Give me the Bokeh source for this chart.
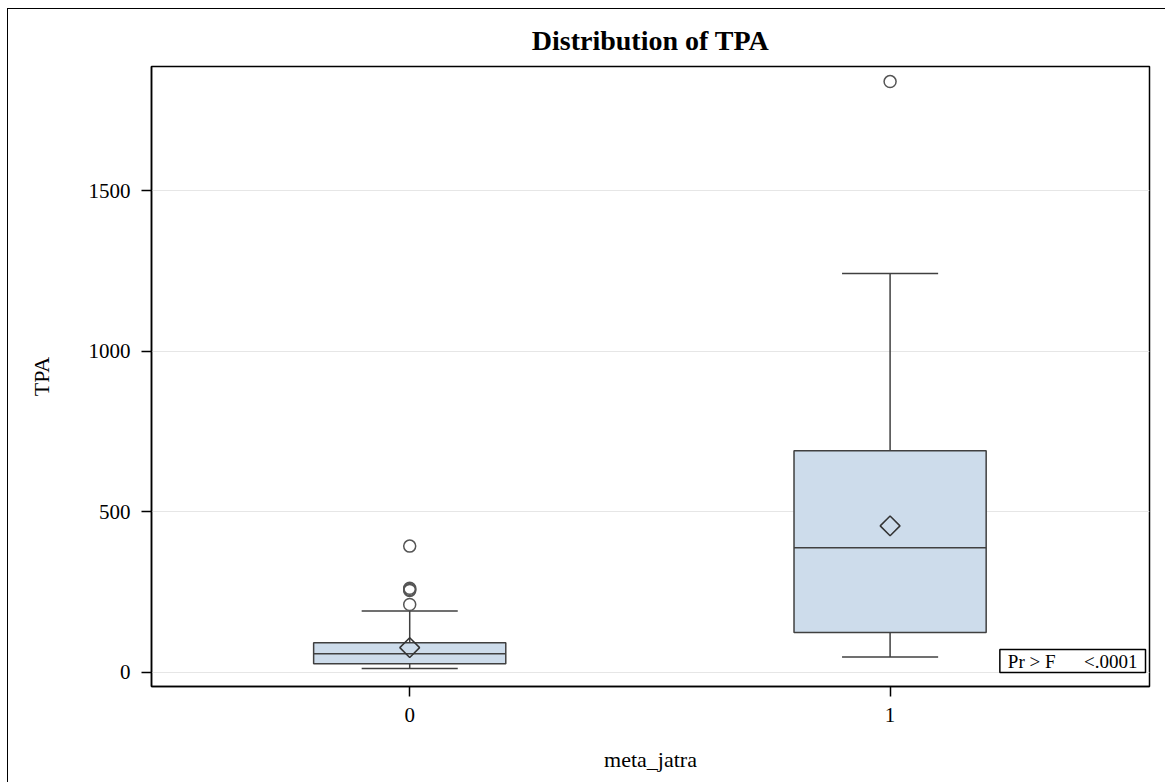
import math
from bokeh.plotting import figure
from bokeh.models import Range1d, FixedTicker, Label, Title
from bokeh.embed import file_html
from bokeh.resources import INLINE

categories = [0, 1]
tick_labels = ["0", "1"]
q1 = [27, 124]
median = [58, 388]
q3 = [92, 690]
whisker_low = [12, 48]
whisker_high = [191, 1242]
means = [77, 456]
outlier_x = [0, 0, 0, 0, 0, 1]
outlier_y = [393, 262, 258, 255, 211, 1839]

FONT = "Liberation Serif"
LINE = "#404040"
FILL = "#CDDCEB"
box_w = 0.4
cap_w = 0.2

xr = Range1d(-0.5375, 1.54)
yr = Range1d(-44, 1886)

p = figure(width=1158, height=774, x_range=xr, y_range=yr,
           output_backend="svg", toolbar_location=None,
           min_border_left=143, min_border_right=17,
           min_border_top=57, min_border_bottom=97,
           styles={"border-left": "1px solid black", "border-top": "1px solid black",
                   "margin-left": "7px", "margin-top": "8px"})

p.title = None
t = Title(text="Distribution of TPA", align="center", text_font=FONT,
          text_font_size="28px", text_font_style="bold", text_color="black",
          standoff=22)
p.add_layout(t, "above")

p.outline_line_color = "black"
p.outline_line_width = 1.5
p.xgrid.grid_line_color = None
p.ygrid.grid_line_color = "#E6E6E6"
p.ygrid.grid_line_width = 1

p.xaxis.ticker = FixedTicker(ticks=categories)
p.xaxis.major_label_overrides = {c: l for c, l in zip(categories, tick_labels)}
p.yaxis.ticker = FixedTicker(ticks=[0, 500, 1000, 1500])
for ax in (p.xaxis, p.yaxis):
    ax.axis_line_color = "black"
    ax.axis_line_width = 1.5
    ax.major_tick_line_color = "black"
    ax.major_tick_line_width = 1.5
    ax.major_tick_out = 10
    ax.major_tick_in = 0
    ax.minor_tick_line_color = None
    ax.major_label_text_font = FONT
    ax.major_label_text_font_size = "21px"
    ax.major_label_text_color = "black"
    ax.axis_label_text_font = FONT
    ax.axis_label_text_font_size = "22px"
    ax.axis_label_text_font_style = "normal"
    ax.axis_label_text_color = "black"
    ax.major_label_standoff = 11
p.xaxis.axis_label = "meta_jatra"
p.yaxis.axis_label = "TPA"
p.xaxis.axis_label_standoff = 22
p.yaxis.axis_label_standoff = 32
p.yaxis.major_label_orientation = "horizontal"

# whiskers
p.segment(x0=categories, y0=q3, x1=categories, y1=whisker_high, line_color=LINE, line_width=1.5)
p.segment(x0=categories, y0=q1, x1=categories, y1=whisker_low, line_color=LINE, line_width=1.5)
cap_l = [c - cap_w / 2 for c in categories]
cap_r = [c + cap_w / 2 for c in categories]
p.segment(x0=cap_l, y0=whisker_high, x1=cap_r, y1=whisker_high, line_color=LINE, line_width=1.5)
p.segment(x0=cap_l, y0=whisker_low, x1=cap_r, y1=whisker_low, line_color=LINE, line_width=1.5)

# boxes
p.vbar(x=categories, width=box_w, top=q3, bottom=q1, fill_color=FILL,
       line_color=LINE, line_width=1.5)
box_l = [c - box_w / 2 for c in categories]
box_r = [c + box_w / 2 for c in categories]
p.segment(x0=box_l, y0=median, x1=box_r, y1=median, line_color=LINE, line_width=1.5)

# means
p.scatter(x=categories, y=means, marker="square", angle=math.pi / 4, size=14,
          fill_color=None, line_color="#333333", line_width=1.5)

# outliers
p.scatter(x=outlier_x, y=outlier_y, marker="circle", size=12, fill_color=None,
          line_color="#555555", line_width=1.5)

lab = Label(x=xr.end, y=yr.start, x_offset=-4, y_offset=14,
            text="Pr > F\u00a0\u00a0\u00a0\u00a0\u00a0\u00a0<.0001",
            text_font=FONT, text_font_size="19px", text_color="black",
            anchor="bottom_right", text_align="right", text_baseline="bottom",
            border_line_color="black", border_line_width=1.5,
            background_fill_color="white", padding=(8, 1))
p.add_layout(lab)

open("out.html", "w").write(file_html(p, INLINE))
